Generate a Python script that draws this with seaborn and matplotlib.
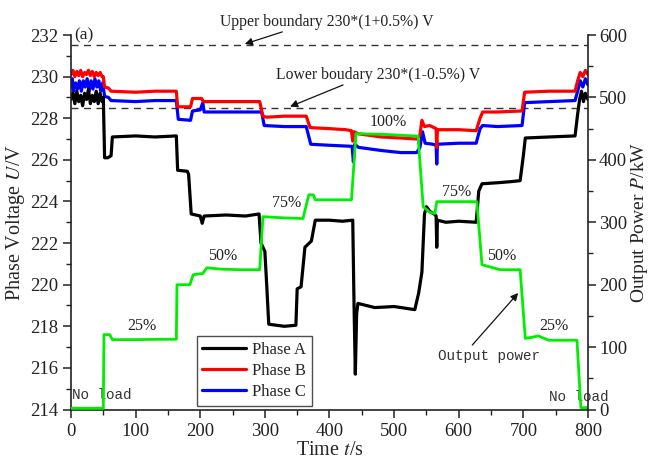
import matplotlib
matplotlib.use("Agg")
import matplotlib.pyplot as plt
from matplotlib.ticker import MultipleLocator
import seaborn as sns
import pandas as pd

# ---- measured series ----
time_a = [0, 3, 6, 9, 12, 15, 18, 21, 24, 27, 30, 33, 36, 39, 42, 45, 48, 50, 52, 57, 62, 64,
          100, 130, 163, 165, 180, 182, 186, 200, 203, 206, 240, 270, 291, 294, 300, 303, 306,
          330, 348, 350, 356, 362, 372, 378, 400, 420, 436, 438, 440, 442, 444, 470, 500, 532,
          538, 543, 547, 550, 556, 562, 565, 566, 567, 580, 600, 627, 631, 636, 660, 680, 695,
          700, 703, 740, 780, 784, 787, 790, 793, 796, 800]
phase_a = [228.9, 229.2, 228.7, 229.3, 228.8, 229.1, 228.6, 229.2, 228.9, 229.4, 228.7, 229.1,
           228.8, 229.3, 228.7, 229.2, 228.8, 229.0, 226.1, 226.1, 226.2, 227.1,
           227.15, 227.1, 227.15, 225.5, 225.45, 225.3, 223.4, 223.3, 222.95, 223.3, 223.35,
           223.3, 223.4, 222.0, 221.6, 219.9, 218.1,
           218.0, 218.05, 219.8, 219.9, 221.8, 222.1, 223.1, 223.1, 223.05, 223.1, 219.0, 215.7,
           218.6, 219.1, 218.9, 218.95, 218.8,
           219.6, 220.6, 223.4, 223.75, 223.5, 223.4, 223.3, 221.8, 223.1, 223.0, 223.05, 223.0,
           224.5, 224.85, 224.9, 224.95, 225.0,
           226.2, 227.05, 227.1, 227.15, 228.2, 228.9, 229.3, 228.8, 229.2, 228.9]

time_b = [0, 3, 6, 9, 12, 15, 18, 21, 24, 27, 30, 33, 36, 39, 42, 45, 48, 50, 52, 58, 62,
          100, 130, 163, 165, 185, 188, 202, 205, 240, 270, 292, 297, 303, 330, 364, 370, 400,
          425, 434, 436, 438, 445, 480, 510, 535, 540, 543, 547, 555, 565, 566, 567, 600, 627,
          633, 637, 660, 698, 702, 740, 780, 784, 788, 792, 796, 800]
phase_b = [230.1, 230.3, 230.0, 230.25, 230.05, 230.3, 230.0, 230.2, 230.1, 230.3, 230.05,
           230.25, 230.0, 230.2, 230.05, 230.2, 230.0, 230.0, 229.5, 229.45, 229.3,
           229.25, 229.3, 229.3, 228.55, 228.55, 228.95, 228.95, 228.8, 228.8, 228.8, 228.8,
           228.1, 228.05, 228.1, 228.1, 227.55, 227.5,
           227.45, 227.4, 226.9, 227.35, 227.25, 227.1, 227.05, 227.0, 227.2, 227.9, 227.6,
           227.65, 227.5, 226.6, 227.45, 227.45, 227.4,
           228.0, 228.3, 228.3, 228.35, 229.25, 229.3, 229.3, 229.8, 230.2, 230.0, 230.3, 230.1]

time_c = [0, 2, 4, 7, 10, 13, 16, 19, 22, 25, 28, 31, 34, 37, 40, 43, 46, 49, 50, 52, 58, 62,
          100, 130, 163, 166, 185, 188, 200, 204, 206, 240, 270, 295, 299, 330, 364, 371, 400,
          435, 437, 439, 445, 480, 510, 535, 540, 544, 548, 560, 565, 566, 567, 600, 627, 633,
          637, 660, 698, 702, 740, 780, 784, 788, 792, 796, 800]
phase_c = [229.5, 229.9, 229.3, 229.7, 229.4, 229.8, 229.3, 229.8, 229.5, 229.9, 229.3, 229.8,
           229.4, 229.9, 229.5, 229.8, 229.3, 229.7, 229.5, 229.05, 229.0, 228.85,
           228.8, 228.85, 228.85, 227.95, 227.9, 228.35, 228.4, 228.75, 228.3, 228.3, 228.3,
           228.3, 227.65, 227.6, 227.6, 226.75, 226.7,
           226.65, 225.9, 226.75, 226.6, 226.45, 226.35, 226.35, 226.6, 227.35, 226.8, 226.75,
           226.7, 225.8, 226.75, 226.8, 226.8, 227.5,
           227.65, 227.6, 227.65, 228.75, 228.8, 228.85, 229.3, 229.8, 229.5, 229.9, 229.6]

time_p = [0, 50, 51, 60, 64, 100, 140, 163, 164, 184, 189, 204, 210, 231, 260, 292, 297, 330,
          359, 368, 375, 378, 434, 441, 480, 537, 545, 555, 563, 566, 600, 628, 636, 664, 695,
          703, 715, 723, 739, 783, 789, 800]
power = [2, 2, 120, 120, 112, 112, 112.5, 112.5, 200, 200, 216, 218, 227, 225, 224, 224, 309,
         307, 306, 344, 344, 336, 336, 442, 441, 438, 325, 316, 314, 333, 333, 333, 232, 224,
         224, 114, 116, 118, 111, 111, 3, 3]

upper_limit = 231.5
lower_limit = 228.5

level_labels = ["25%", "50%", "75%", "100%", "75%", "50%", "25%"]
level_t = [110, 234, 334, 491, 597, 667, 748]
level_p = [134, 246, 331, 460, 349, 246, 134]

series_names = ["Phase A", "Phase B", "Phase C"]
series_colors = ["#000000", "#ff0000", "#0000ff"]

# ---- style ----
sns.set_style("ticks")
plt.rcParams["font.family"] = ["Liberation Serif", "DejaVu Serif"]
plt.rcParams["mathtext.fontset"] = "stix"

fig = plt.figure(figsize=(6.52, 4.62), dpi=100)
ax = fig.add_axes([0.1089, 0.1136, 0.7929, 0.8106])
ax2 = ax.twinx()

frames = [
    pd.DataFrame({"t": time_a, "U": phase_a, "phase": series_names[0]}),
    pd.DataFrame({"t": time_b, "U": phase_b, "phase": series_names[1]}),
    pd.DataFrame({"t": time_c, "U": phase_c, "phase": series_names[2]}),
]
volt = pd.concat(frames, ignore_index=True)
# draw C, B, A so that phase A sits on top
for name, color in zip(series_names[::-1], series_colors[::-1]):
    sub = volt[volt["phase"] == name]
    sns.lineplot(data=sub, x="t", y="U", ax=ax, color=color, lw=2.3, label=name,
                 estimator=None, sort=False, legend=False)

pw = pd.DataFrame({"t": time_p, "P": power})
sns.lineplot(data=pw, x="t", y="P", ax=ax2, color="#00ee00", lw=2.0, estimator=None,
             sort=False, legend=False)

for lim in (upper_limit, lower_limit):
    ax.axhline(lim, color="#333333", lw=1.0, ls=(0, (5, 4)), zorder=1)

ax.set_xlim(0, 800)
ax.set_ylim(214, 232)
ax2.set_ylim(0, 600)

ax.xaxis.set_major_locator(MultipleLocator(100))
ax.xaxis.set_minor_locator(MultipleLocator(50))
ax.yaxis.set_major_locator(MultipleLocator(2))
ax.yaxis.set_minor_locator(MultipleLocator(1))
ax2.yaxis.set_major_locator(MultipleLocator(100))
ax2.yaxis.set_minor_locator(MultipleLocator(50))

for a in (ax, ax2):
    a.spines["top"].set_visible(False)
    for s in a.spines.values():
        s.set_linewidth(1.2)
        s.set_color("#222222")
    a.tick_params(which="major", direction="out", length=6, width=1.1, labelsize=13.5,
                  colors="#222222")
    a.tick_params(which="minor", direction="out", length=3.5, width=1.0, colors="#222222")
ax.spines["right"].set_visible(False)
ax2.spines["left"].set_visible(False)
ax2.spines["bottom"].set_visible(False)
ax2.tick_params(which="major", pad=2)

ax.set_xlabel("Time $t$/s", fontsize=14.5, labelpad=1)
ax.set_ylabel("Phase Voltage $U$/V", fontsize=14.5, labelpad=2)
ax2.set_ylabel("Output Power $P$/kW", fontsize=14, labelpad=1)

leg_handles = [plt.Line2D([], [], color=c, lw=2.3) for c in series_colors]
leg = ax.legend(leg_handles, series_names, loc="lower left", bbox_to_anchor=(0.243, 0.01),
                fontsize=12, frameon=True, fancybox=False, handlelength=2.6,
                labelspacing=0.3, borderpad=0.35, handletextpad=0.4, borderaxespad=0)
leg.get_frame().set_edgecolor("#222222")
leg.get_frame().set_linewidth(1.0)

# ---- text annotations ----
ax.text(20, 232.0, "(a)", fontsize=12.5, ha="center", va="center", color="#222222",
        clip_on=False)

arrow = dict(arrowstyle="-|>", color="#111111", lw=0.9, mutation_scale=11,
             shrinkA=0, shrinkB=0)
ax.annotate("", xy=(269, 231.57), xytext=(327, 232.15), arrowprops=arrow,
            annotation_clip=False)
ax.text(396, 232.62, "Upper boundary 230*(1+0.5%) V", fontsize=11.3, ha="center",
        va="center", color="#222222", clip_on=False)
ax.annotate("", xy=(339, 228.56), xytext=(421, 229.6), arrowprops=arrow)
ax.text(475, 230.06, "Lower boudary 230*(1-0.5%) V", fontsize=11.3, ha="center",
        va="center", color="#222222")

for lab, tx, py in zip(level_labels, level_t, level_p):
    ax2.text(tx, py, lab, fontsize=11.5, ha="center", va="center", color="#222222")

mono = ["Liberation Mono", "DejaVu Sans Mono"]
ax.text(2, 214.72, "No load", family=mono, fontsize=10.3, ha="left", va="center",
        color="#333333")
ax.text(786, 214.62, "No load", family=mono, fontsize=10.3, ha="center", va="center",
        color="#333333", clip_on=False)
ax.annotate("", xy=(692, 219.6), xytext=(621, 217.1), arrowprops=arrow)
ax.text(647, 216.55, "Output power", family=mono, fontsize=10.3, ha="center", va="center",
        color="#333333")

fig.savefig("out.png", dpi=100)
